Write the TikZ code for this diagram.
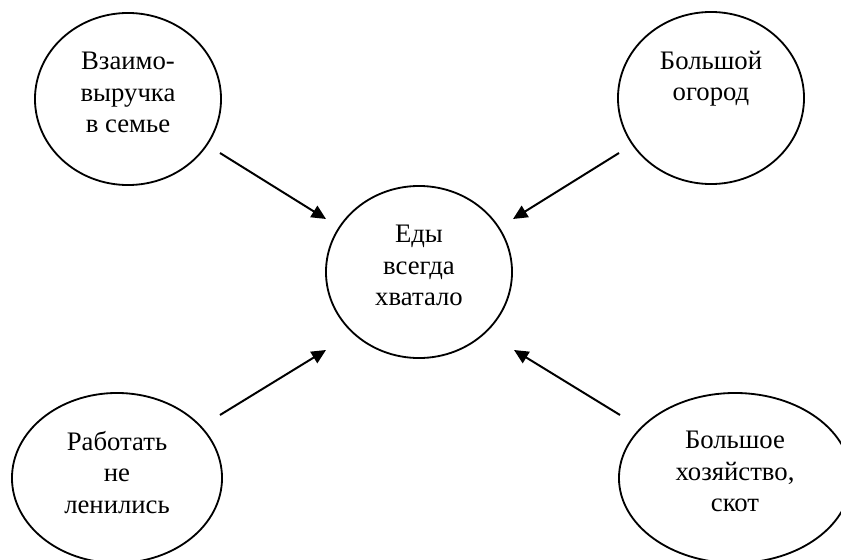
\documentclass[tikz,border=0pt]{standalone}
\usepackage{fontspec}
\setmainfont{Liberation Serif}
\usetikzlibrary{shapes.geometric,arrows.meta}

\newcommand{\bubbletext}[1]{\parbox[c][2.35cm][t]{3.25cm}{\centering #1}}

\begin{document}
\begin{tikzpicture}[x=0.025cm, y=-0.025cm, >={Triangle[length=3.6mm,width=3.3mm]},
    every node/.style={font=\fontsize{19}{22.5}\selectfont},
    bubble/.style={draw, ellipse, line width=1.3pt, inner sep=0pt,
        minimum width=4.65cm, minimum height=4.3cm}]
    \useasboundingbox (0,0) rectangle (841,559);
    \node[bubble] (help) at (128,99) {\bubbletext{Взаимо-\\выручка\\в семье}};
    \node[bubble] (garden) at (711,98) {\bubbletext{Большой\\огород}};
    \node[bubble] (food) at (419,272) {\bubbletext{Еды\\всегда\\хватало}};
    \node[bubble, minimum width=5.25cm, minimum height=4.25cm] (work) at (117,478) {\bubbletext{Работать\\не\\ленились}};
    \node[bubble, minimum width=5.8cm, minimum height=4.25cm] (farm) at (735,478) {\bubbletext{Большое\\хозяйство,\\скот}};
    % arrow ends
    \coordinate (help-out) at (220,153);
    \coordinate (food-tl) at (326,219);
    \coordinate (garden-out) at (619,153);
    \coordinate (food-tr) at (513,219);
    \coordinate (work-out) at (220,415);
    \coordinate (food-bl) at (326,350);
    \coordinate (farm-out) at (620,415);
    \coordinate (food-br) at (514,350);
    \draw[->, line width=1.4pt] (help-out) -- (food-tl);
    \draw[->, line width=1.4pt] (garden-out) -- (food-tr);
    \draw[->, line width=1.4pt] (work-out) -- (food-bl);
    \draw[->, line width=1.4pt] (farm-out) -- (food-br);
\end{tikzpicture}
\end{document}
